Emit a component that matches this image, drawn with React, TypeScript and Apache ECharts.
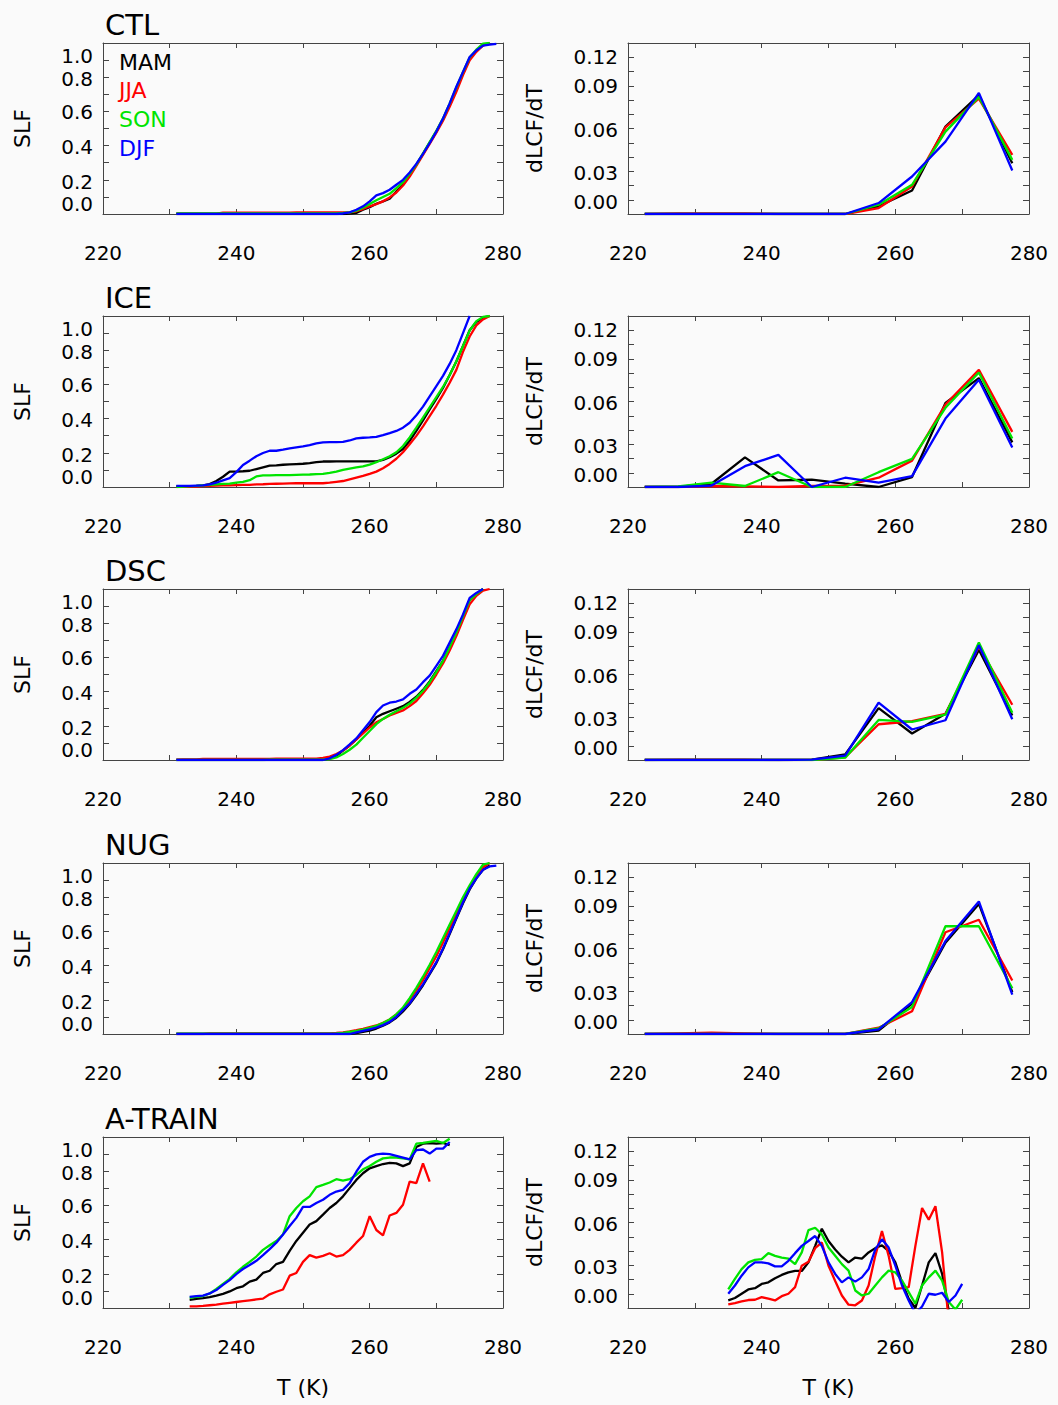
import React, { useEffect, useRef } from 'react';
import * as echarts from 'echarts';

const FONT = '"DejaVu Sans", Verdana, sans-serif';

const SEASONS = ['MAM', 'JJA', 'SON', 'DJF'];
const SEASON_COLORS = ['#000000', '#ff0000', '#00e400', '#0000ff'];
const ROW_TITLES = ['CTL', 'ICE', 'DSC', 'NUG', 'A-TRAIN'];

const X_TICK_LABELS = [220, 240, 260, 280];
// y tick labels and the axis positions at which the reference prints them
const SLF_LABELS = ['0.0', '0.2', '0.4', '0.6', '0.8', '1.0'];
const SLF_LABEL_POS = [0.058, 0.187, 0.389, 0.596, 0.789, 0.924];
const DLCF_LABELS = ['0.00', '0.03', '0.06', '0.09', '0.12'];
const DLCF_LABEL_POS = [0.0081, 0.0285, 0.059, 0.0897, 0.1101];

// ---- temperature grids (K) ----
const T_SLF = [231, 232, 233, 234, 235, 236, 237, 238, 239, 240, 241, 242, 243, 244, 245, 246, 247, 248, 249, 250,
  251, 252, 253, 254, 255, 256, 257, 258, 259, 260, 261, 262, 263, 264, 265, 266, 267, 268, 269, 270,
  271, 272, 273, 274, 275, 276, 277, 278, 279];
const T_DLCF = [222.5, 227.5, 232.5, 237.5, 242.5, 247.5, 252.5, 257.5, 262.5, 267.5, 272.5, 277.5];
const T_ATRAIN_SLF = [233, 234, 235, 236, 237, 238, 239, 240, 241, 242, 243, 244, 245, 246, 247, 248, 249, 250, 251, 252,
  253, 254, 255, 256, 257, 258, 259, 260, 261, 262, 263, 264, 265, 266, 267, 268, 269, 270, 271, 272];
const T_ATRAIN_DLCF = [235, 236, 237, 238, 239, 240, 241, 242, 243, 244, 245, 246, 247, 248, 249, 250, 251, 252,
  253, 254, 255, 256, 257, 258, 259, 260, 261, 262, 263, 264, 265, 266, 267, 268, 269, 270];

// ---- CTL ----
const CTL_SLF_MAM = [0, 0, 0, 0, 0, 0, 0, 0, 0, 0, 0, 0, 0, 0, 0, 0, 0, 0, 0, 0, 0, 0, 0, 0, 0, 0, 0.002,
  0.006, 0.025, 0.04, 0.06, 0.074, 0.089, 0.132, 0.171, 0.229, 0.287, 0.351, 0.417, 0.482, 0.553, 0.637, 0.728, 0.821, 0.909, 0.953, 0.986, 1.0, null];
const CTL_SLF_JJA = [0.002, 0.002, 0.002, 0.002, 0.002, 0.002, 0.002, 0.008, 0.008, 0.008, 0.008, 0.008, 0.008, 0.008, 0.008, 0.008, 0.008, 0.008,
  0.01, 0.01, 0.01, 0.01, 0.01, 0.01, 0.01, 0.01, 0.01,
  0.016, 0.029, 0.045, 0.058, 0.074, 0.097, 0.126, 0.167, 0.219, 0.282, 0.346, 0.41, 0.476, 0.546, 0.627, 0.715, 0.812, 0.899, 0.948, 0.986, 1.0, null];
const CTL_SLF_SON = [0.003, 0.003, 0.003, 0.003, 0.003, 0.003, 0.003, 0.003, 0.003, 0.003, 0.003, 0.003, 0.003, 0.003, 0.003, 0.003, 0.003, 0.003, 0.003, 0.003,
  0.003, 0.003, 0.003, 0.003, 0.003, 0.006, 0.01,
  0.019, 0.037, 0.058, 0.08, 0.099, 0.118, 0.151, 0.186, 0.235, 0.289, 0.355, 0.421, 0.487, 0.559, 0.647, 0.74, 0.831, 0.915, 0.961, 0.996, 1.0, null];
const CTL_SLF_DJF = [0, 0, 0, 0, 0, 0, 0, 0, 0, 0, 0, 0, 0, 0, 0, 0, 0, 0, 0, 0, 0, 0, 0, 0, 0, 0.003, 0.01,
  0.025, 0.045, 0.074, 0.109, 0.122, 0.142, 0.171, 0.2, 0.243, 0.293, 0.351, 0.414, 0.482, 0.559, 0.647, 0.744, 0.831, 0.918, 0.957, 0.985, 0.99, 0.995];
const CTL_DLCF_MAM = [0, 0, 0, 0, 0, 0, 0, 0.0054, 0.0165, 0.0613, 0.0834, 0.0356];
const CTL_DLCF_JJA = [0, 0.0005, 0.0005, 0.0005, 0, 0, 0, 0.0042, 0.0193, 0.0608, 0.081, 0.0415];
const CTL_DLCF_SON = [0, 0, 0, 0, 0, 0, 0, 0.0065, 0.0205, 0.0578, 0.0822, 0.038];
const CTL_DLCF_DJF = [0, 0, 0, 0, 0, 0, 0, 0.0077, 0.0263, 0.0508, 0.085, 0.0305];

// ---- ICE ----
const ICE_SLF_MAM = [0.003, 0.003, 0.005, 0.007, 0.01, 0.017, 0.035, 0.06, 0.09, 0.09,
  0.092, 0.095, 0.105, 0.115, 0.125, 0.127, 0.13, 0.132, 0.134, 0.136,
  0.14, 0.145, 0.149, 0.149, 0.15, 0.15, 0.15, 0.15, 0.15, 0.15,
  0.15, 0.158, 0.174, 0.195, 0.222, 0.27, 0.328, 0.39, 0.454, 0.515,
  0.579, 0.655, 0.734, 0.825, 0.917, 0.965, 0.99, 1.0, null];
const ICE_SLF_JJA = [0, 0.001, 0.002, 0.003, 0.005, 0.006, 0.008, 0.009, 0.01, 0.011,
  0.012, 0.013, 0.015, 0.016, 0.018, 0.019, 0.02, 0.021, 0.022, 0.022,
  0.022, 0.022, 0.022, 0.025, 0.03, 0.035, 0.045, 0.055, 0.065, 0.077,
  0.09, 0.11, 0.135, 0.165, 0.203, 0.25, 0.299, 0.355, 0.415, 0.475,
  0.54, 0.61, 0.685, 0.79, 0.88, 0.945, 0.98, 1.0, null];
const ICE_SLF_SON = [0, 0.002, 0.005, 0.007, 0.01, 0.012, 0.015, 0.018, 0.02, 0.025,
  0.03, 0.04, 0.062, 0.068, 0.068, 0.069, 0.07, 0.07, 0.071, 0.072,
  0.073, 0.075, 0.077, 0.082, 0.09, 0.1, 0.108, 0.115, 0.12, 0.131,
  0.145, 0.162, 0.18, 0.203, 0.24, 0.29, 0.347, 0.405, 0.465, 0.525,
  0.585, 0.655, 0.735, 0.825, 0.915, 0.97, 0.995, 1.0, null];
const ICE_SLF_DJF = [0.006, 0.006, 0.006, 0.008, 0.01, 0.015, 0.025, 0.039, 0.052, 0.087,
  0.129, 0.154, 0.18, 0.199, 0.212, 0.212, 0.218, 0.226, 0.232, 0.237,
  0.245, 0.255, 0.261, 0.262, 0.263, 0.264, 0.272, 0.284, 0.288, 0.29,
  0.293, 0.303, 0.315, 0.328, 0.347, 0.376, 0.42, 0.47, 0.53, 0.59,
  0.65, 0.72, 0.8, 0.9, 1.0, null, null, null, null];
const ICE_DLCF_MAM = [0, 0, 0.0023, 0.0208, 0.0046, 0.0051, 0.0023, 0, 0.007, 0.059, 0.0764, 0.0313];
const ICE_DLCF_JJA = [0, 0, 0.0007, 0.0005, 0, 0.0007, 0.001, 0.0065, 0.0185, 0.0579, 0.0822, 0.0387];
const ICE_DLCF_SON = [0, 0.0005, 0.003, 0.0007, 0.0104, 0, 0, 0.0104, 0.0197, 0.0556, 0.0804, 0.034];
const ICE_DLCF_DJF = [0, 0, 0.001, 0.0146, 0.0225, 0, 0.0065, 0.003, 0.0076, 0.048, 0.0753, 0.0278];

// ---- DSC ----
const DSC_SLF_MAM = [0, 0, 0, 0, 0, 0, 0, 0, 0, 0,
  0, 0, 0, 0, 0, 0, 0, 0, 0, 0,
  0, 0, 0, 0.01, 0.025, 0.055, 0.085, 0.12, 0.16, 0.2,
  0.25, 0.27, 0.285, 0.3, 0.315, 0.34, 0.37, 0.41, 0.46, 0.52,
  0.58, 0.66, 0.745, 0.84, 0.935, 0.97, 1.0, null, null];
const DSC_SLF_JJA = [0.002, 0.003, 0.003, 0.003, 0.006, 0.006, 0.006, 0.006, 0.006, 0.006,
  0.006, 0.006, 0.006, 0.006, 0.006, 0.008, 0.008, 0.008, 0.008, 0.008,
  0.008, 0.008, 0.012, 0.02, 0.035, 0.055, 0.085, 0.12, 0.155, 0.19,
  0.22, 0.24, 0.26, 0.275, 0.29, 0.315, 0.345, 0.39, 0.44, 0.5,
  0.565, 0.64, 0.725, 0.82, 0.91, 0.96, 0.99, 1.0, null];
const DSC_SLF_SON = [0, 0, 0, 0, 0, 0, 0, 0, 0, 0,
  0, 0, 0, 0, 0.002, 0.002, 0.002, 0.002, 0.002, 0.002,
  0.002, 0.002, 0.002, 0.005, 0.015, 0.035, 0.06, 0.09, 0.13, 0.17,
  0.21, 0.24, 0.265, 0.285, 0.305, 0.33, 0.365, 0.405, 0.455, 0.515,
  0.58, 0.66, 0.745, 0.84, 0.935, 0.97, 1.0, null, null];
const DSC_SLF_DJF = [0, 0, 0, 0, 0, 0, 0, 0, 0, 0,
  0, 0, 0, 0, 0, 0, 0, 0, 0, 0,
  0, 0, 0, 0.01, 0.03, 0.058, 0.091, 0.126, 0.174, 0.222,
  0.28, 0.319, 0.335, 0.342, 0.354, 0.387, 0.412, 0.455, 0.493, 0.551,
  0.609, 0.687, 0.764, 0.851, 0.948, 0.977, 1.0, null, null];
const DSC_DLCF_MAM = [0, 0, 0, 0, 0, 0.0003, 0.0039, 0.0364, 0.0186, 0.0325, 0.0773, 0.0313];
const DSC_DLCF_JJA = [0, 0.0003, 0.0003, 0.0003, 0, 0, 0.0019, 0.0251, 0.0272, 0.0323, 0.0796, 0.0388];
const DSC_DLCF_SON = [0, 0, 0, 0, 0, 0, 0.0016, 0.0281, 0.0267, 0.0318, 0.0824, 0.0332];
const DSC_DLCF_DJF = [0, 0, 0, 0, 0, 0.0003, 0.003, 0.0402, 0.0214, 0.0279, 0.0805, 0.0286];

// ---- NUG ----
const NUG_SLF_MAM = [0, 0, 0, 0, 0, 0, 0, 0, 0, 0,
  0, 0, 0, 0, 0, 0, 0, 0, 0, 0,
  0, 0, 0, 0, 0, 0, 0, 0.005, 0.012, 0.02,
  0.032, 0.048, 0.068, 0.095, 0.132, 0.175, 0.228, 0.285, 0.35, 0.415,
  0.495, 0.585, 0.675, 0.765, 0.845, 0.91, 0.96, 0.985, null];
const NUG_SLF_JJA = [0, 0, 0, 0, 0, 0.004, 0.004, 0.004, 0.004, 0.004,
  0.004, 0.004, 0.004, 0.004, 0.004, 0.004, 0.004, 0.004, 0.004, 0.004,
  0.004, 0.004, 0.004, 0.004, 0.006, 0.01, 0.015, 0.022, 0.03, 0.04,
  0.05, 0.065, 0.085, 0.115, 0.15, 0.2, 0.255, 0.315, 0.385, 0.455,
  0.535, 0.62, 0.7, 0.78, 0.855, 0.92, 0.975, 1.0, null];
const NUG_SLF_SON = [0.002, 0.002, 0.002, 0.002, 0.002, 0.002, 0.002, 0.002, 0.002, 0.002,
  0.002, 0.002, 0.002, 0.002, 0.002, 0.002, 0.002, 0.002, 0.002, 0.002,
  0.002, 0.002, 0.002, 0.002, 0.003, 0.006, 0.012, 0.018, 0.026, 0.036,
  0.048, 0.064, 0.085, 0.115, 0.155, 0.21, 0.27, 0.335, 0.405, 0.48,
  0.56, 0.64, 0.72, 0.8, 0.87, 0.935, 0.99, 1.0, null];
const NUG_SLF_DJF = [0, 0, 0, 0, 0, 0, 0, 0, 0, 0,
  0, 0, 0, 0, 0, 0, 0, 0, 0, 0,
  0, 0, 0, 0, 0, 0, 0, 0.01, 0.018, 0.027,
  0.038, 0.052, 0.071, 0.1, 0.14, 0.18, 0.235, 0.29, 0.355, 0.42,
  0.5, 0.59, 0.68, 0.77, 0.85, 0.91, 0.96, 0.98, 0.985];
const NUG_DLCF_MAM = [0, 0, 0, 0, 0, 0, 0, 0.0023, 0.0213, 0.064, 0.0913, 0.0294];
const NUG_DLCF_JJA = [0, 0.0005, 0.001, 0.0005, 0, 0, 0, 0.0044, 0.016, 0.0714, 0.0802, 0.0375];
const NUG_DLCF_SON = [0, 0, 0, 0, 0, 0, 0, 0.0039, 0.019, 0.0756, 0.0756, 0.0321];
const NUG_DLCF_DJF = [0, 0, 0, 0, 0, 0, 0, 0.0032, 0.0224, 0.0652, 0.093, 0.0277];

// ---- A-TRAIN (observations) ----
const ATR_SLF_MAM = [0.048, 0.054, 0.058, 0.064, 0.073, 0.083, 0.097, 0.116, 0.127, 0.154,
  0.166, 0.205, 0.218, 0.257, 0.27, 0.334, 0.392, 0.44, 0.488, 0.508,
  0.546, 0.585, 0.614, 0.653, 0.701, 0.749, 0.788, 0.817, 0.83, 0.842,
  0.849, 0.846, 0.83, 0.846, 0.942, 0.961, 0.965, 0.961, 0.965, 0.952];
const ATR_SLF_JJA = [0.01, 0.01, 0.012, 0.016, 0.02, 0.025, 0.03, 0.035, 0.04, 0.045,
  0.05, 0.055, 0.08, 0.095, 0.108, 0.189, 0.205, 0.27, 0.309, 0.295,
  0.305, 0.32, 0.301, 0.309, 0.34, 0.382, 0.421, 0.537, 0.456, 0.425,
  0.541, 0.556, 0.604, 0.739, 0.73, 0.846, 0.739, null, null, null];
const ATR_SLF_SON = [0.06, 0.065, 0.07, 0.085, 0.112, 0.141, 0.17, 0.208, 0.241, 0.27,
  0.301, 0.34, 0.367, 0.392, 0.43, 0.537, 0.585, 0.624, 0.653, 0.707,
  0.72, 0.734, 0.753, 0.745, 0.753, 0.778, 0.811, 0.83, 0.855, 0.875,
  0.88, 0.88, 0.875, 0.869, 0.961, 0.965, 0.971, 0.977, 0.965, 0.99];
const ATR_SLF_DJF = [0.065, 0.07, 0.072, 0.085, 0.105, 0.135, 0.163, 0.198, 0.228, 0.251,
  0.276, 0.309, 0.344, 0.382, 0.43, 0.479, 0.527, 0.591, 0.591, 0.614,
  0.633, 0.662, 0.681, 0.691, 0.73, 0.797, 0.855, 0.884, 0.898, 0.903,
  0.9, 0.89, 0.88, 0.869, 0.923, 0.927, 0.903, 0.932, 0.932, 0.971];
const ATR_DLCF_MAM = [0.0053, 0.007, 0.01, 0.013, 0.0139, 0.0169, 0.018, 0.0209, 0.0232, 0.025,
  0.026, 0.026, 0.032, 0.0436, 0.0556, 0.047, 0.041, 0.036, 0.032, 0.0354,
  0.0347, 0.039, 0.042, 0.044, 0.04, 0.032, 0.018, 0.0065, 0.0, 0.0158,
  0.032, 0.0385, 0.024, -0.002, null, null];
const ATR_DLCF_JJA = [0.0025, 0.0035, 0.0046, 0.0056, 0.0058, 0.0076, 0.0065, 0.0053, 0.0083, 0.01,
  0.0146, 0.0297, 0.0324, 0.042, 0.046, 0.0297, 0.019, 0.0088, 0.0023, 0.0019,
  0.0053, 0.0158, 0.0366, 0.054, 0.0366, 0.0134, 0.0139, 0.0146, 0.0436, 0.0702,
  0.062, 0.0714, 0.039, -0.01, null, null];
const ATR_DLCF_SON = [0.013, 0.0204, 0.0273, 0.032, 0.0338, 0.0343, 0.0385, 0.0366, 0.0354, 0.0347,
  0.0308, 0.039, 0.0547, 0.0563, 0.0517, 0.0424, 0.0366, 0.0308, 0.0262, 0.0123,
  0.0088, 0.01, 0.0158, 0.0215, 0.0262, 0.025, 0.0192, 0.0111, 0.003, 0.0158,
  0.0215, 0.0262, 0.0192, 0.0042, -0.001, 0.0058];
const ATR_DLCF_DJF = [0.01, 0.0158, 0.0227, 0.0285, 0.032, 0.032, 0.0313, 0.0292, 0.0292, 0.0331,
  0.0385, 0.0436, 0.047, 0.0505, 0.0436, 0.032, 0.0239, 0.018, 0.0215, 0.0185,
  0.0215, 0.0273, 0.0412, 0.0482, 0.0424, 0.0297, 0.0158, 0.0053, -0.004, 0.001,
  0.01, 0.0093, 0.0107, 0.0042, 0.0088, 0.0169];

// table of panels: [left (SLF), right (dLCF/dT)] per row
const PANELS = [
  { slfT: T_SLF, slf: [CTL_SLF_MAM, CTL_SLF_JJA, CTL_SLF_SON, CTL_SLF_DJF], dT: T_DLCF, d: [CTL_DLCF_MAM, CTL_DLCF_JJA, CTL_DLCF_SON, CTL_DLCF_DJF] },
  { slfT: T_SLF, slf: [ICE_SLF_MAM, ICE_SLF_JJA, ICE_SLF_SON, ICE_SLF_DJF], dT: T_DLCF, d: [ICE_DLCF_MAM, ICE_DLCF_JJA, ICE_DLCF_SON, ICE_DLCF_DJF] },
  { slfT: T_SLF, slf: [DSC_SLF_MAM, DSC_SLF_JJA, DSC_SLF_SON, DSC_SLF_DJF], dT: T_DLCF, d: [DSC_DLCF_MAM, DSC_DLCF_JJA, DSC_DLCF_SON, DSC_DLCF_DJF] },
  { slfT: T_SLF, slf: [NUG_SLF_MAM, NUG_SLF_JJA, NUG_SLF_SON, NUG_SLF_DJF], dT: T_DLCF, d: [NUG_DLCF_MAM, NUG_DLCF_JJA, NUG_DLCF_SON, NUG_DLCF_DJF] },
  { slfT: T_ATRAIN_SLF, slf: [ATR_SLF_MAM, ATR_SLF_JJA, ATR_SLF_SON, ATR_SLF_DJF], dT: T_ATRAIN_DLCF, d: [ATR_DLCF_MAM, ATR_DLCF_JJA, ATR_DLCF_SON, ATR_DLCF_DJF] },
];

// ---- layout ----
const ROW_TOPS = [43, 316, 589, 863, 1137];
const BOX_H = 171;
const COL_LEFT = [103, 628];
const COL_WIDTH = [400, 401];
const AXIS_COLOR = '#444444';
const TICK_FS = 20;
const NAME_FS = 22;

function nearestLabel(v: number, pos: number[], labels: string[]) {
  let best = 0;
  for (let i = 1; i < pos.length; i++) {
    if (Math.abs(pos[i] - v) < Math.abs(pos[best] - v)) best = i;
  }
  return labels[best];
}

function buildOption() {
  const grid: any[] = [];
  const xAxis: any[] = [];
  const yAxis: any[] = [];
  const series: any[] = [];
  const graphic: any[] = [];

  PANELS.forEach((p, r) => {
    for (let c = 0; c < 2; c++) {
      const gi = r * 2 + c;
      grid.push({ left: COL_LEFT[c], top: ROW_TOPS[r], width: COL_WIDTH[c], height: BOX_H });
      const lastRow = r === PANELS.length - 1;
      const xCommon = {
        type: 'value', gridIndex: gi, min: 220, max: 280, interval: 10,
        axisLine: { show: true, onZero: false, lineStyle: { color: AXIS_COLOR, width: 1 } },
        axisTick: { show: true, inside: true, length: 5, lineStyle: { color: AXIS_COLOR } },
        splitLine: { show: false },
      };
      xAxis.push({
        ...xCommon, position: 'bottom',
        axisLabel: {
          show: true, margin: 29, fontSize: TICK_FS, fontFamily: FONT, color: '#000',
          formatter: (v: number) => (X_TICK_LABELS.indexOf(Math.round(v)) >= 0 ? String(Math.round(v)) : ''),
        },
        name: lastRow ? 'T (K)' : '', nameLocation: 'middle', nameGap: 68,
        nameTextStyle: { fontSize: NAME_FS, fontFamily: FONT, color: '#000' },
      });
      xAxis.push({ ...xCommon, position: 'top', axisLabel: { show: false } });

      const isSlf = c === 0;
      const yMax = isSlf ? 1 : 0.12;
      const yInt = isSlf ? 0.1 : 0.01;
      const labels = isSlf ? SLF_LABELS : DLCF_LABELS;
      const labelPos = isSlf ? SLF_LABEL_POS : DLCF_LABEL_POS;
      const yCommon = {
        type: 'value', gridIndex: gi, min: 0, max: yMax, interval: yInt,
        axisLine: { show: true, onZero: false, lineStyle: { color: AXIS_COLOR, width: 1 } },
        axisTick: { show: true, inside: true, length: 6, lineStyle: { color: AXIS_COLOR } },
        splitLine: { show: false },
      };
      yAxis.push({
        ...yCommon, position: 'left',
        axisLabel: {
          show: true, margin: 10, fontSize: TICK_FS, lineHeight: 16, fontFamily: FONT, color: '#000',
          customValues: labelPos,
          formatter: (v: number) => nearestLabel(v, labelPos, labels),
        },
        name: isSlf ? 'SLF' : 'dLCF/dT', nameLocation: 'middle', nameGap: isSlf ? 70 : 83,
        nameTextStyle: { fontSize: NAME_FS, fontFamily: FONT, color: '#000' },
      });
      yAxis.push({ ...yCommon, position: 'right', axisLabel: { show: false } });

      const T = isSlf ? p.slfT : p.dT;
      const sets = isSlf ? p.slf : p.d;
      sets.forEach((vals, s) => {
        const data: number[][] = [];
        T.forEach((t, k) => {
          if (vals[k] !== null && vals[k] !== undefined) data.push([t, vals[k] as number]);
        });
        series.push({
          type: 'line', name: SEASONS[s], xAxisIndex: gi * 2, yAxisIndex: gi * 2,
          data, showSymbol: false, symbol: 'none', clip: true, silent: true,
          lineStyle: { color: SEASON_COLORS[s], width: 2.3 }, itemStyle: { color: SEASON_COLORS[s] },
          emphasis: { disabled: true },
        });
      });
    }
    graphic.push({
      type: 'text', x: 105, y: ROW_TOPS[r] - 18,
      style: { text: ROW_TITLES[r], fill: '#000', fontSize: 29, fontFamily: FONT, verticalAlign: 'middle', textVerticalAlign: 'middle', align: 'left' },
    });
  });

  SEASONS.forEach((name, s) => {
    graphic.push({
      type: 'text', x: 119, y: 62 + s * 28.7,
      style: { text: name, fill: SEASON_COLORS[s], fontSize: 22, fontFamily: FONT, verticalAlign: 'middle', textVerticalAlign: 'middle', align: 'left' },
    });
  });

  return {
    animation: false,
    backgroundColor: '#fafafa',
    grid, xAxis, yAxis, series, graphic,
  };
}

export default function App() {
  const ref = useRef<HTMLDivElement>(null);
  useEffect(() => {
    if (!ref.current) return;
    const chart = echarts.init(ref.current, null, { renderer: 'svg' });
    chart.setOption(buildOption() as any);
    return () => chart.dispose();
  }, []);
  return (
    <div
      ref={ref}
      style={{ position: 'absolute', left: 0, top: 0, width: 1058, height: 1405, background: '#fafafa' }}
    />
  );
}
